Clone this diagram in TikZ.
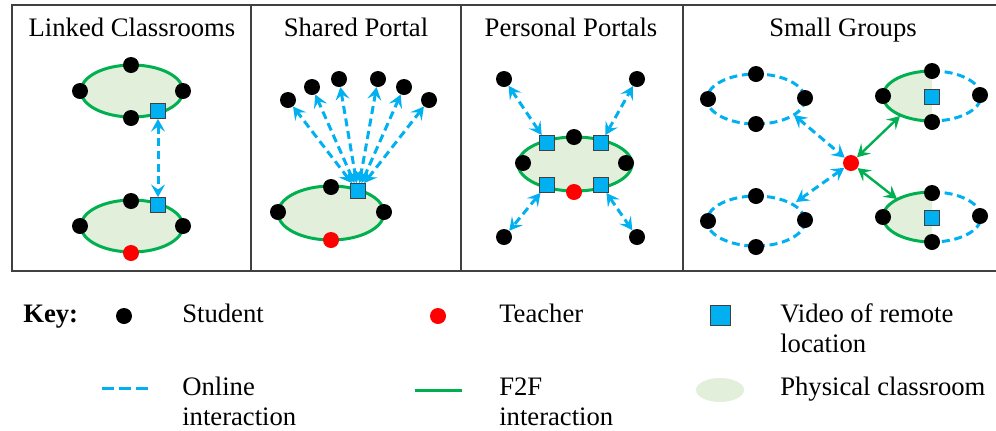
\documentclass[tikz,border=0pt]{standalone}
\usepackage{fontspec}
\setmainfont{Liberation Serif}
\usetikzlibrary{arrows.meta}
\definecolor{cblue}{HTML}{00B0F0}
\definecolor{cgreen}{HTML}{00B050}
\definecolor{cfill}{HTML}{E2EFDA}
\definecolor{cframe}{HTML}{404040}
\begin{document}
\begin{tikzpicture}[x=0.75pt,y=-0.75pt,
  font=\fontsize{20}{22.5}\selectfont,
  student/.style={circle,fill=black,inner sep=0pt,minimum size=12pt},
  teacher/.style={circle,fill=red,inner sep=0pt,minimum size=12pt},
  video/.style={rectangle,fill=cblue,draw=cframe,line width=0.6pt,inner sep=0pt,minimum size=11.25pt},
  f2f/.style={draw=cgreen,line width=2.25pt},
  f2fline/.style={draw=cgreen,line width=1.8pt},
  online/.style={draw=cblue,line width=2.25pt,dash pattern=on 6pt off 3.5pt},
  room/.style={fill=cfill,draw=cgreen,line width=2.25pt},
  biarrow/.style={arrows={Stealth[length=9.5pt,width=10.5pt,inset=3.8pt]-Stealth[length=9.5pt,width=10.5pt,inset=3.8pt]}},
  frame/.style={draw=cframe,line width=1.1pt},
  title/.style={anchor=base,inner sep=0pt},
  lbl/.style={anchor=base west,inner sep=0pt}]
\useasboundingbox (0,0) rectangle (996,430);
% frame
\draw[frame] (998,5) -- (12,5) -- (12,271) -- (998,271);
\draw[frame] (251,5) -- (251,271);
\draw[frame] (461,5) -- (461,271);
\draw[frame] (683,5) -- (683,271);
% titles
\node[title] (t1) at (132,36) {Linked Classrooms};
\node[title] (t2) at (356,36) {Shared Portal};
\node[title] (t3) at (571,36) {Personal Portals};
\node[title] (t4) at (843,36) {Small Groups};

% ---- Panel 1: Linked Classrooms
\draw[room] (132,91) ellipse [x radius=51, y radius=26];
\draw[room] (132,226) ellipse [x radius=51, y radius=26];
\node[student] (a1) at (131,65) {};
\node[student] (a2) at (80,91) {};
\node[student] (a3) at (183,91) {};
\node[student] (a4) at (131,118) {};
\node[video] (av1) at (158,111) {};
\node[student] (b1) at (131,201) {};
\node[student] (b2) at (80,226) {};
\node[student] (b3) at (183,226) {};
\node[teacher] (bt) at (131,253) {};
\node[video] (av2) at (158,205) {};
\draw[online,biarrow] (av1) -- (av2);

% ---- Panel 2: Shared Portal
\draw[room] (331,213) ellipse [x radius=53, y radius=27];
\node[student] (s1) at (278,212) {};
\node[student] (s2) at (384,212) {};
\node[student] (s3) at (331,187) {};
\node[teacher] (st) at (331,240) {};
\node[video] (sv) at (358,191) {};
\node[student] (r1) at (288,100) {};
\node[student] (r2) at (312,87) {};
\node[student] (r3) at (339,79) {};
\node[student] (r4) at (378,79) {};
\node[student] (r5) at (404,87) {};
\node[student] (r6) at (429,100) {};
\foreach \r in {r1,r2,r3,r4,r5,r6}
  \draw[online,biarrow] (sv) -- (\r);

% ---- Panel 3: Personal Portals
\draw[room] (575,164) ellipse [x radius=57, y radius=27];
\node[student] (p1) at (523,163) {};
\node[student] (p2) at (626,163) {};
\node[student] (p3) at (574,137) {};
\node[teacher] (pt) at (574,192) {};
\node[video] (pv1) at (547,143) {};
\node[video] (pv2) at (601,143) {};
\node[video] (pv3) at (547,185) {};
\node[video] (pv4) at (601,185) {};
\node[student] (q1) at (504,79) {};
\node[student] (q2) at (637,79) {};
\node[student] (q3) at (504,237) {};
\node[student] (q4) at (637,237) {};
\draw[online,biarrow] (pv1) -- (q1);
\draw[online,biarrow] (pv2) -- (q2);
\draw[online,biarrow] (pv3) -- (q3);
\draw[online,biarrow] (pv4) -- (q4);

% ---- Panel 4: Small Groups
\draw[online] (756,99) ellipse [x radius=49, y radius=25];
\draw[online] (756,221) ellipse [x radius=49, y radius=25];
\fill[cfill] (932,121) arc [start angle=90, end angle=270, x radius=49, y radius=25] -- cycle;
\draw[f2f] (932,121) arc [start angle=90, end angle=270, x radius=49, y radius=25];
\draw[online] (932,71) arc [start angle=270, end angle=450, x radius=49, y radius=25];
\fill[cfill] (932,242) arc [start angle=90, end angle=270, x radius=49, y radius=25] -- cycle;
\draw[f2f] (932,242) arc [start angle=90, end angle=270, x radius=49, y radius=25];
\draw[online] (932,192) arc [start angle=270, end angle=450, x radius=49, y radius=25];
\coordinate (c1) at (794,115);
\coordinate (c2) at (796,202);
\coordinate (c3) at (900,116);
\coordinate (c4) at (897,199);
\node[teacher] (gt) at (851,163) {};
\draw[online,biarrow] (c1) -- (gt);
\draw[online,biarrow] (c2) -- (gt);
\draw[f2fline,biarrow] (c3) -- (gt);
\draw[f2fline,biarrow] (c4) -- (gt);
\node[student] (g1) at (756,74) {};
\node[student] (g2) at (708,99) {};
\node[student] (g3) at (805,98) {};
\node[student] (g4) at (756,124) {};
\node[student] (h1) at (756,196) {};
\node[student] (h2) at (708,221) {};
\node[student] (h3) at (805,220) {};
\node[student] (h4) at (756,247) {};
\node[student] (i1) at (932,71) {};
\node[student] (i2) at (883,96) {};
\node[student] (i3) at (980,95) {};
\node[student] (i4) at (932,122) {};
\node[video] (iv) at (932,97) {};
\node[student] (j1) at (932,193) {};
\node[student] (j2) at (883,217) {};
\node[student] (j3) at (980,216) {};
\node[student] (j4) at (932,242) {};
\node[video] (jv) at (932,218) {};

% ---- Legend
\node[lbl,font=\fontsize{20}{22.5}\selectfont\bfseries] (key) at (23,322) {Key:};
\node[student] (ks) at (124,316) {};
\node[lbl] (kst) at (182,322) {Student};
\node[teacher] (kt) at (438,316) {};
\node[lbl] (ktt) at (499,322) {Teacher};
\node[video,minimum size=15pt] (kv) at (720,315) {};
\node[lbl] (kvt1) at (780,322) {Video of remote};
\node[lbl] (kvt2) at (780,352) {location};
\coordinate (kd1) at (102,388);
\coordinate (kd2) at (148,388);
\draw[draw=cblue,line width=2.25pt,dash pattern=on 9pt off 3.75pt] (kd1) -- (kd2);
\node[lbl] (kdt1) at (182,395) {Online};
\node[lbl] (kdt2) at (182,425) {interaction};
\coordinate (kf1) at (415,390);
\coordinate (kf2) at (462,390);
\draw[f2f] (kf1) -- (kf2);
\node[lbl] (kft1) at (499,395) {F2F};
\node[lbl] (kft2) at (499,425) {interaction};
\fill[cfill] (720,390) ellipse [x radius=24, y radius=12];
\node[lbl] (kpt) at (780,395) {Physical classroom};
\end{tikzpicture}
\end{document}
